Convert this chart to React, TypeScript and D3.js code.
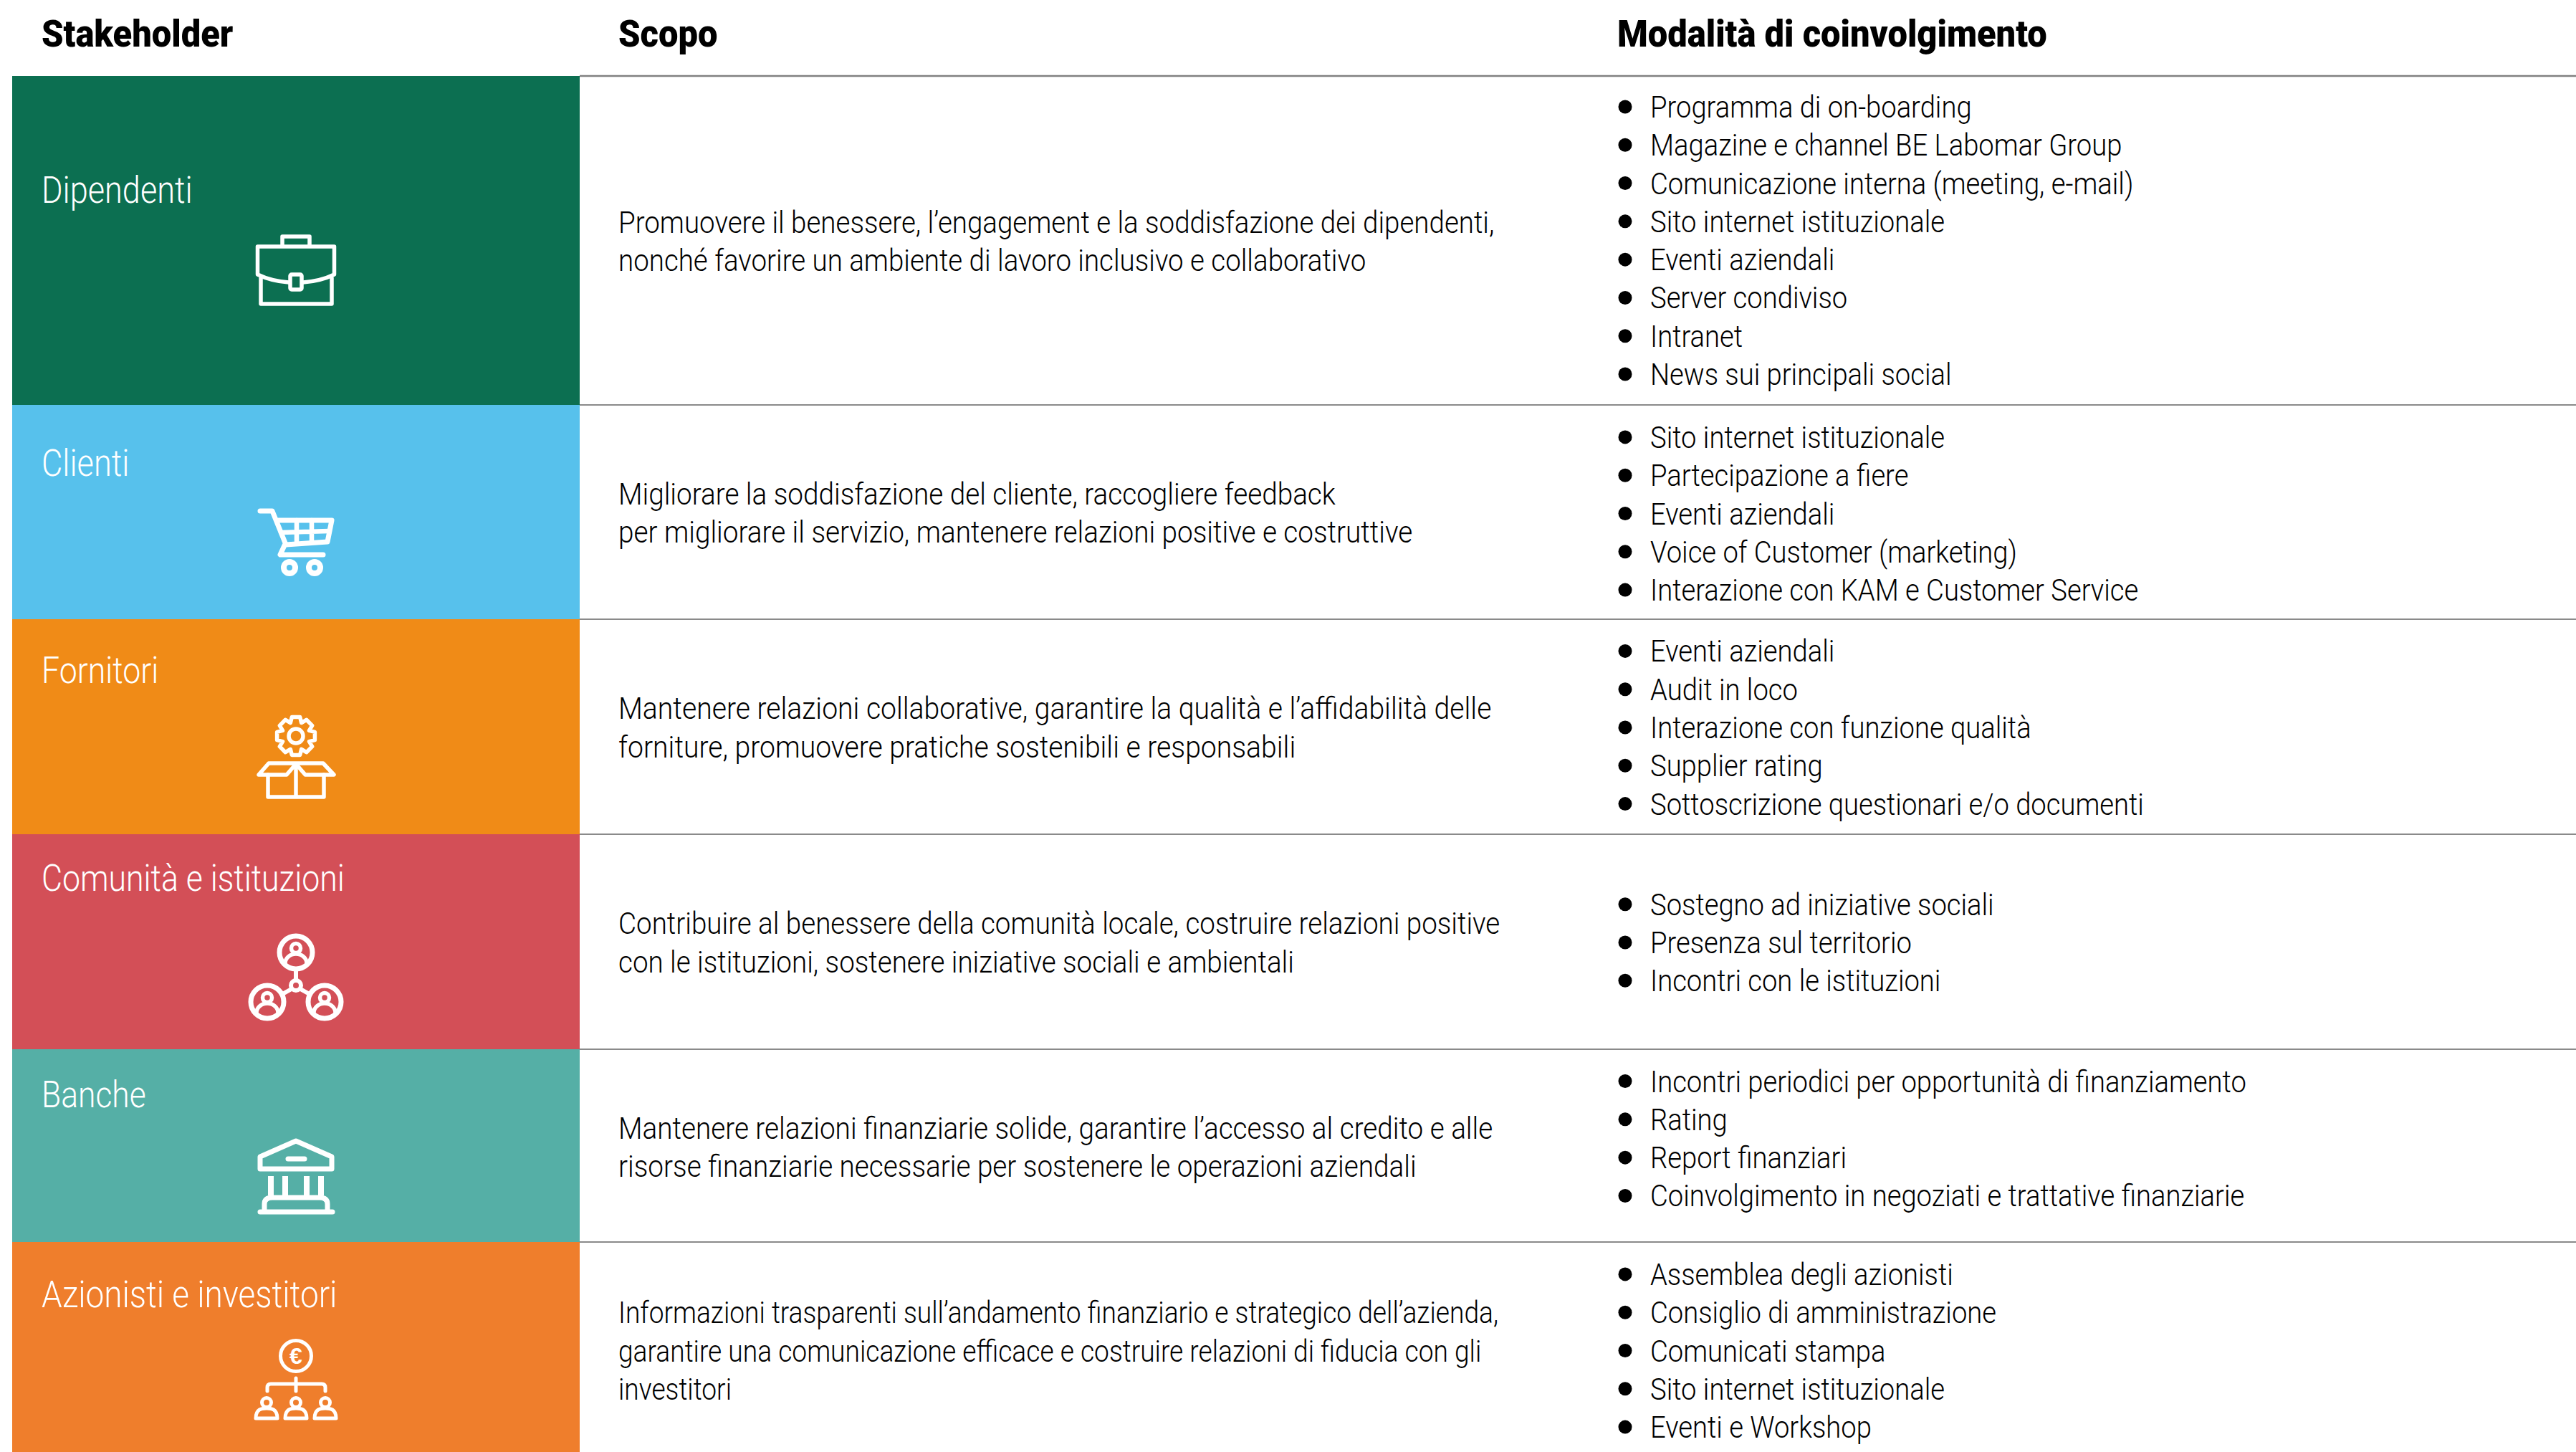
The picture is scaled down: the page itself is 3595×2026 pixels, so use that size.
import React from "react";
import * as d3 from "d3";

const headers = ["Stakeholder", "Scopo", "Modalità di coinvolgimento"];
const stakeholders = ["Dipendenti", "Clienti", "Fornitori", "Comunità e istituzioni", "Banche", "Azionisti e investitori"];
const colours = ["#0C6F51", "#57C1EC", "#F08B17", "#D34F57", "#55AFA6", "#EF7E2C"];
const scopes = [
  ["Promuovere il benessere, l’engagement e la soddisfazione dei dipendenti,", "nonché favorire un ambiente di lavoro inclusivo e collaborativo"],
  ["Migliorare la soddisfazione del cliente, raccogliere feedback", "per migliorare il servizio, mantenere relazioni positive e costruttive"],
  ["Mantenere relazioni collaborative, garantire la qualità e l’affidabilità delle", "forniture, promuovere pratiche sostenibili e responsabili"],
  ["Contribuire al benessere della comunità locale, costruire relazioni positive", "con le istituzioni, sostenere iniziative sociali e ambientali"],
  ["Mantenere relazioni finanziarie solide, garantire l’accesso al credito e alle", "risorse finanziarie necessarie per sostenere le operazioni aziendali"],
  ["Informazioni trasparenti sull’andamento finanziario e strategico dell’azienda,", "garantire una comunicazione efficace e costruire relazioni di fiducia con gli", "investitori"],
];
const modes = [
  ["Programma di on-boarding", "Magazine e channel BE Labomar Group", "Comunicazione interna (meeting, e-mail)", "Sito internet istituzionale", "Eventi aziendali", "Server condiviso", "Intranet", "News sui principali social"],
  ["Sito internet istituzionale", "Partecipazione a fiere", "Eventi aziendali", "Voice of Customer (marketing)", "Interazione con KAM e Customer Service"],
  ["Eventi aziendali", "Audit in loco", "Interazione con funzione qualità", "Supplier rating", "Sottoscrizione questionari e/o documenti"],
  ["Sostegno ad iniziative sociali", "Presenza sul territorio", "Incontri con le istituzioni"],
  ["Incontri periodici per opportunità di finanziamento", "Rating", "Report finanziari", "Coinvolgimento in negoziati e trattative finanziarie"],
  ["Assemblea degli azionisti", "Consiglio di amministrazione", "Comunicati stampa", "Sito internet istituzionale", "Eventi e Workshop"],
];

// layout (pixels of the 3595x2026 frame)
const rowEdges = [106, 565, 864, 1164, 1464, 1733, 2026];
const labelY = [283, 664, 953, 1243, 1545, 1824];
const labelScale = [0.885, 0.885, 0.875, 0.875, 0.87, 0.9];
const scopeShift = [1, 1, 1, 1, 2, 5];
const modeShift = [0, 2, 1, 1, -10, 5];
const scopeScale = [0.895, 0.9, 0.91, 0.897, 0.9, 0.864];
const FONT = "Roboto, 'Liberation Sans', sans-serif";
const LINE = 53.3;
const SX = 0.888, SXB = 0.94;

const yRow = d3.scaleOrdinal<number, number>().domain(d3.range(6)).range(rowEdges.slice(0, 6));

function T({ x, y, size, weight = 300, fill = "#000", sx = SX, children }: any) {
  return (
    <text transform={`translate(${x},${y}) scale(${sx},1)`} fontFamily={FONT} fontSize={size} fontWeight={weight} fill={fill}>
      {children}
    </text>
  );
}

function gearPath(cx: number, cy: number, ro: number, ri: number, teeth: number) {
  const pts: [number, number][] = [];
  const step = (Math.PI * 2) / teeth;
  for (let i = 0; i < teeth; i++) {
    const a = i * step - Math.PI / 2;
    [[-0.5, ri], [-0.27, ro], [0.27, ro], [0.5, ri]].forEach(([k, r]) =>
      pts.push([cx + r * Math.cos(a + k * step), cy + r * Math.sin(a + k * step)])
    );
  }
  return d3.line()(pts) + "Z";
}

const iconBase = { fill: "none", stroke: "#fff", strokeWidth: 5.5, strokeLinejoin: "round" as const, strokeLinecap: "round" as const };

function Person({ x, y }: { x: number; y: number }) {
  return (
    <g>
      <circle cx={x} cy={y} r={23} strokeWidth={7} />
      <circle cx={x} cy={y - 6} r={6.5} strokeWidth={5.5} />
      <path d={`M${x - 15},${y + 15} A15,13 0 0 1 ${x + 15},${y + 15}`} strokeWidth={5.5} />
    </g>
  );
}

function Small({ x }: { x: number }) {
  return (
    <g>
      <circle cx={x} cy={1957} r={6.5} strokeWidth={5} />
      <path d={`M${x - 15},1979 C${x - 15},1966 ${x - 7},1965 ${x},1965 C${x + 7},1965 ${x + 15},1966 ${x + 15},1979 Z`} strokeWidth={5} />
    </g>
  );
}

const icons = [
  <g {...iconBase}>
    <path d="M394,342V330H432V342" />
    <path d="M359.5,344H466.5V383C450,391 437,393 423,394M403,394C389,393 376,391 359.5,383V344" />
    <path d="M364,388V424H463V388" />
    <rect x={405} y={383} width={16} height={21} rx={2} />
  </g>,
  <g {...iconBase} strokeWidth={7}>
    <path d="M363,713H380L399,760L457,756L463,726H386" />
    <path d="M392,743L459,741M414,726V758M435,726V757" strokeWidth={6.5} />
    <path d="M397,761L391,774H451" />
    <circle cx={404} cy={792} r={8} strokeWidth={8} />
    <circle cx={439} cy={792} r={8} strokeWidth={8} />
  </g>,
  <g {...iconBase} strokeWidth={5.5}>
    <path d={gearPath(413, 1027, 27, 20, 8)} />
    <circle cx={413} cy={1027} r={10} />
    <path d="M361,1081L375,1065H451L466,1081H426L413,1066L400,1081Z" />
    <path d="M374,1081V1112H452V1081M413,1067V1112" />
  </g>,
  <g {...iconBase}>
    <Person x={413} y={1329} />
    <Person x={373} y={1398} />
    <Person x={453} y={1398} />
    <circle cx={413} cy={1375} r={7} strokeWidth={6} />
    <path d="M413,1353V1367M396,1386L405,1381M430,1386L421,1381" strokeWidth={6} />
  </g>,
  <g {...iconBase} strokeWidth={7}>
    <path d="M413,1592L463,1614V1631H363V1614Z" />
    <path d="M402,1617H425" />
    <path d="M378,1641V1668M398,1641V1668M428,1641V1668M448,1641V1668" strokeWidth={8} strokeLinecap="butt" />
    <path d="M369,1690V1680Q369,1671 380,1671H446Q457,1671 457,1680V1690" />
    <path d="M363,1691H464" />
  </g>,
  <g {...iconBase} strokeWidth={5}>
    <circle cx={413} cy={1892} r={21.5} />
    <text x={413} y={1903} textAnchor="middle" fontFamily="'Liberation Sans', sans-serif" fontWeight={700} fontSize={32} fill="#fff" stroke="none">€</text>
    <path d="M413,1923V1941M373,1941V1936Q373,1931 378,1931H449Q454,1931 454,1936V1941" />
    <Small x={372} />
    <Small x={413} />
    <Small x={454} />
  </g>,
];

export default function App() {
  return (
    <svg width={3595} height={2026} viewBox="0 0 3595 2026" style={{ position: "absolute", left: 0, top: 0, background: "#fff" }}>
      <T x={58} y={65} size={52} weight={900} sx={SXB}>{headers[0]}</T>
      <T x={863} y={65} size={52} weight={900} sx={SXB}>{headers[1]}</T>
      <T x={2257} y={65} size={52} weight={900} sx={SXB}>{headers[2]}</T>
      <line x1={809} x2={3595} y1={106} y2={106} stroke="#808080" strokeWidth={2.5} />
      {stakeholders.map((name, i) => {
        const y0 = yRow(i), y1 = rowEdges[i + 1], mid = (y0 + y1) / 2;
        return (
          <g key={name}>
            <rect x={17} y={y0} width={792} height={y1 - y0} fill={colours[i]} />
            {i < 5 && <line x1={809} x2={3595} y1={y1} y2={y1} stroke="#8a8a8a" strokeWidth={2} />}
            <T x={58} y={labelY[i]} size={51} fill="#fff" sx={labelScale[i]}>{name}</T>
            {icons[i]}
            {scopes[i].map((s, j) => (
              <T key={j} x={863} y={mid + scopeShift[i] + (j - (scopes[i].length - 1) / 2) * LINE + 15} size={43} sx={scopeScale[i]}>{s}</T>
            ))}
            {modes[i].map((m, j) => {
              const y = mid + modeShift[i] + (j - (modes[i].length - 1) / 2) * LINE;
              return (
                <g key={j}>
                  <circle cx={2268} cy={y} r={9.5} fill="#000" />
                  <T x={2303} y={y + 15} size={43}>{m}</T>
                </g>
              );
            })}
          </g>
        );
      })}
    </svg>
  );
}
